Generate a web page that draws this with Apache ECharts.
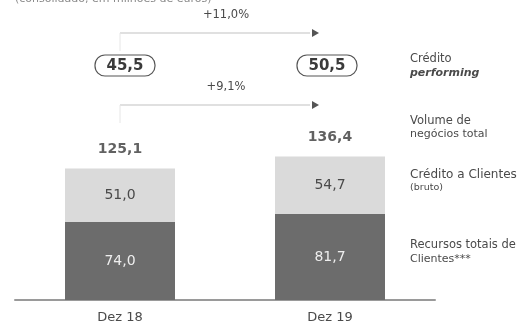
<!DOCTYPE html>
<html>
<head>
<meta charset="utf-8">
<script src="https://cdn.jsdelivr.net/npm/echarts@6/dist/echarts.min.js"></script>
<style>
  html, body { margin: 0; padding: 0; background: #ffffff; }
  #chart { width: 524px; height: 327px; }
</style>
</head>
<body>
<div id="chart"></div>
<script>
// Periods and stacked components (millions of euros)
const categories = ['Dez 18', 'Dez 19'];
const recursosClientes = [74.0, 81.7];
const creditoClientes = [51.0, 54.7];
const volumeNegocios = [125.1, 136.4];
const creditoPerforming = [45.5, 50.5];
const growthPerforming = '+11,0%';
const growthVolume = '+9,1%';

const fmt = v => v.toFixed(1).replace('.', ',');
const FONT = 'DejaVu Sans';
const TEXT = '#4a4a4a';

const chart = echarts.init(document.getElementById('chart'));

const option = {
  animation: false,
  backgroundColor: '#ffffff',
  grid: { left: 15, right: 89, top: 0, bottom: 27 },
  xAxis: {
    type: 'category',
    data: categories,
    axisLine: { show: true, lineStyle: { color: '#9a9a9a', width: 2 } },
    axisTick: { show: false },
    axisLabel: { color: TEXT, fontFamily: FONT, fontSize: 13, margin: 11 }
  },
  yAxis: { type: 'value', min: 0, max: 285, show: false, splitLine: { show: false } },
  series: [
    {
      name: 'Recursos totais de Clientes',
      type: 'bar', stack: 'total', barWidth: 110,
      data: recursosClientes,
      itemStyle: { color: '#6c6c6c' },
      label: { show: true, position: 'inside', color: '#eeeeee', fontFamily: FONT, fontSize: 14, formatter: p => fmt(p.value) }
    },
    {
      name: 'Crédito a Clientes',
      type: 'bar', stack: 'total', barWidth: 110,
      data: creditoClientes,
      itemStyle: { color: '#dadada' },
      label: { show: true, position: 'inside', color: TEXT, fontFamily: FONT, fontSize: 14, formatter: p => fmt(p.value) }
    },
    {
      name: 'Volume de negócios total',
      type: 'scatter', symbolSize: 0,
      data: volumeNegocios,
      label: { show: true, position: 'top', distance: 12, color: '#3a3a3a', fontFamily: FONT, fontSize: 14, fontWeight: 'bold', formatter: p => fmt(p.value) }
    }
  ]
};
chart.setOption(option);

// Annotations: growth arrows, performing-credit pills and right-side legend text
const x0 = chart.convertToPixel({ xAxisIndex: 0 }, categories[0]);
const x1 = chart.convertToPixel({ xAxisIndex: 0 }, categories[1]);

function arrow(y, label, labelX) {
  return [
    { type: 'line', shape: { x1: x0, y1: y, x2: x1 - 20, y2: y }, style: { stroke: '#d6d6d6', lineWidth: 1.5 } },
    { type: 'line', shape: { x1: x0, y1: y, x2: x0, y2: y + 18 }, style: { stroke: '#e6e6e6', lineWidth: 1 } },
    { type: 'polygon', shape: { points: [[x1 - 18, y - 4], [x1 - 11, y], [x1 - 18, y + 4]] }, style: { fill: '#555555' } },
    { type: 'text', x: labelX, y: y - 18, style: { text: label, fill: TEXT, font: '11.5px ' + FONT, textAlign: 'center', textVerticalAlign: 'middle' } }
  ];
}

function pill(cx, value) {
  return [
    { type: 'rect', shape: { x: cx - 30, y: 55, width: 60, height: 21, r: 10 }, style: { fill: '#ffffff', stroke: '#555555', lineWidth: 1.2 } },
    { type: 'text', x: cx, y: 66, style: { text: fmt(value), fill: '#3a3a3a', font: 'bold 15px ' + FONT, textAlign: 'center', textVerticalAlign: 'middle' } }
  ];
}

function side(y, text, font) {
  return { type: 'text', x: 410, y: y, style: { text: text, fill: TEXT, font: font, textVerticalAlign: 'middle' } };
}

const elements = [
  { type: 'text', x: 15, y: -1, style: { text: '(consolidado, em milhões de euros)', fill: '#8a8a8a', font: '11px ' + FONT, textVerticalAlign: 'middle' } },
  ...arrow(33, growthPerforming, x0 + 106),
  ...pill(x0 + 5, creditoPerforming[0]),
  ...pill(x1 - 3, creditoPerforming[1]),
  ...arrow(105, growthVolume, x0 + 106),
  side(59, 'Crédito', '11.5px ' + FONT),
  side(73, 'performing', 'italic bold 11px ' + FONT),
  side(121, 'Volume de', '11.5px ' + FONT),
  side(134, 'negócios total', '11px ' + FONT),
  side(175, 'Crédito a Clientes', '12px ' + FONT),
  side(188, '(bruto)', '9.5px ' + FONT),
  side(245, 'Recursos totais de', '11.5px ' + FONT),
  side(259, 'Clientes***', '11px ' + FONT)
];
chart.setOption({ graphic: { elements: elements } });
</script>
</body>
</html>
